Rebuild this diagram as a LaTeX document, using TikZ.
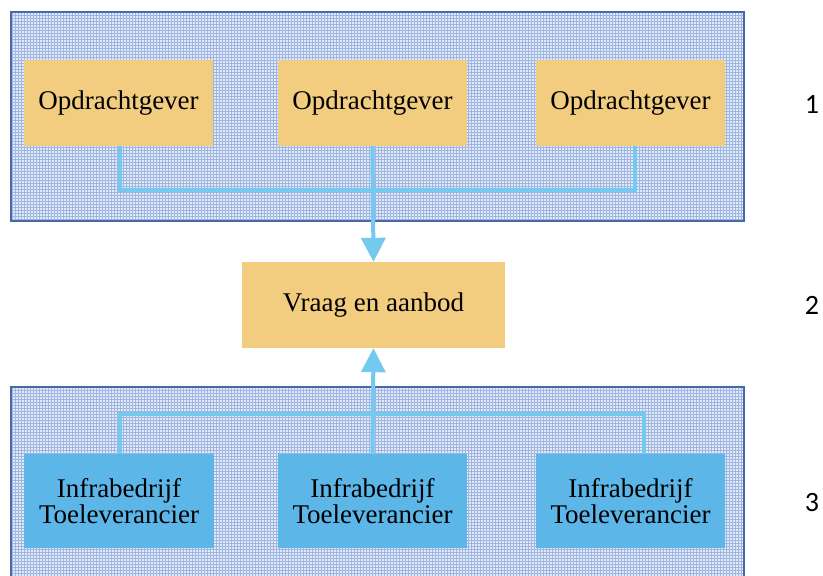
\documentclass[tikz,border=0pt]{standalone}
\usepackage{fontspec}
\setmainfont{Liberation Serif}
\newfontfamily\numfont{Carlito}
\usetikzlibrary{arrows.meta}
\definecolor{panelfill}{HTML}{E2E9F7}
\definecolor{panelgrid}{HTML}{9FB5E2}
\definecolor{panelborder}{HTML}{4A68A8}
\definecolor{sand}{HTML}{F2CD80}
\definecolor{skyfill}{HTML}{5DB6E8}
\definecolor{conncol}{HTML}{74C9EF}
\tikzset{
  panel/.style={fill=panelfill},
  sandbox/.style={fill=sand, inner sep=0pt, font=\fontsize{27}{26}\selectfont, text=black},
  skybox/.style={fill=skyfill, inner sep=0pt, align=center, font=\fontsize{27}{26}\selectfont, text=black},
  conn/.style={draw=conncol, line width=4pt},
  headarrow/.style={-{Triangle[width=24pt,length=24pt]}},
  lvl/.style={font=\numfont\fontsize{28}{30}\selectfont, anchor=center}
}
\begin{document}
\begin{tikzpicture}[x=1pt,y=-1pt]
\useasboundingbox (0,0) rectangle (823,576);
% panels
\fill[panel] (11,12) rectangle (744,221);
\fill[panel] (11,387) rectangle (744,580);
\begin{scope}
\clip (11,12) rectangle (744,221);
\draw[panelgrid, line width=0.5pt, step=3pt] (11,12) grid (744,221);
\end{scope}
\begin{scope}
\clip (11,387) rectangle (744,580);
\draw[panelgrid, line width=0.5pt, step=3pt] (11,387) grid (744,580);
\end{scope}
\draw[panelborder, line width=1.5pt] (11,12) rectangle (744,221);
\draw[panelborder, line width=1.5pt] (11,580) -- (11,387) -- (744,387) -- (744,580);
% boxes
\node[sandbox, minimum width=189pt, minimum height=86pt] (t1) at (118.5,103) {Opdrachtgever};
\node[sandbox, minimum width=189pt, minimum height=86pt] (t2) at (372.5,103) {Opdrachtgever};
\node[sandbox, minimum width=189pt, minimum height=86pt] (t3) at (630.5,103) {Opdrachtgever};
\node[sandbox, minimum width=263pt, minimum height=86pt] (v) at (373.5,305) {Vraag en aanbod};
\node[skybox, minimum width=190pt, minimum height=94pt] (b1) at (119,501) {Infrabedrijf\\Toeleverancier};
\node[skybox, minimum width=189pt, minimum height=94pt] (b2) at (372.5,501) {Infrabedrijf\\Toeleverancier};
\node[skybox, minimum width=189pt, minimum height=94pt] (b3) at (630.5,501) {Infrabedrijf\\Toeleverancier};
% connectors
\coordinate (jt) at (372,190);
\coordinate (jb) at (372,414);
\draw[conn] ([xshift=1.5pt]t1.south) |- (jt) -| ([xshift=4.5pt]t3.south);
\draw[conn, headarrow] (t2.south) -- (v.north);
\draw[conn] ([xshift=1pt]b1.north) |- (jb) -| ([xshift=13.5pt]b3.north);
\draw[conn, headarrow] (b2.north) -- (v.south);
% level numbers
\node[lvl] (n1) at (812,104) {1};
\node[lvl] (n2) at (812,305) {2};
\node[lvl] (n3) at (812,503) {3};
\end{tikzpicture}
\end{document}
